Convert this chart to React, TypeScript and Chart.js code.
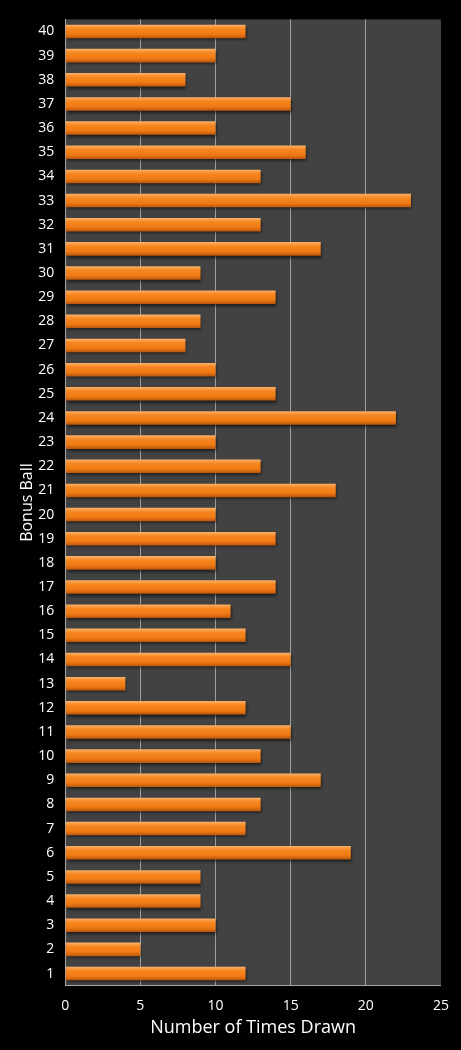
import React, { useEffect, useRef } from 'react';
import { Chart, registerables } from 'chart.js';

Chart.register(...registerables);

// bonus ball numbers, bottom (1) to top (40)
const balls: string[] = Array.from({ length: 40 }, (_, i) => String(i + 1));

const timesDrawn: number[] = [
  12, 5, 10, 9, 9, 19, 12, 13, 17, 13,
  15, 12, 4, 15, 12, 11, 14, 10, 14, 10,
  18, 13, 10, 22, 14, 10, 8, 9, 14, 9,
  17, 13, 23, 13, 16, 10, 15, 8, 10, 12,
];

const xTicks: number[] = [0, 5, 10, 15, 20, 25];

const plotBackground = {
  id: 'plotBackground',
  beforeDraw(chart: Chart) {
    const { ctx, chartArea } = chart;
    ctx.save();
    ctx.fillStyle = '#424242';
    ctx.fillRect(chartArea.left, chartArea.top, chartArea.right - chartArea.left, chartArea.bottom - chartArea.top);
    ctx.restore();
  },
};

// vertical gradient + soft shadow on each bar, like the old office 3d style
const barShade = {
  id: 'barShade',
  beforeDatasetsDraw(chart: Chart) {
    const { ctx } = chart;
    const meta = chart.getDatasetMeta(0);
    meta.data.forEach((el: any) => {
      const h = el.height;
      const top = el.y - h / 2;
      const g = ctx.createLinearGradient(0, top, 0, top + h);
      g.addColorStop(0, '#fbb26a');
      g.addColorStop(0.3, '#f7861f');
      g.addColorStop(0.7, '#f07a14');
      g.addColorStop(1, '#b9560c');
      el.options = Object.assign({}, el.options, { backgroundColor: g });
    });
    ctx.save();
    ctx.shadowColor = 'rgba(0,0,0,0.6)';
    ctx.shadowOffsetY = 2;
    ctx.shadowOffsetX = 1;
    ctx.shadowBlur = 3;
  },
  afterDatasetsDraw(chart: Chart) {
    chart.ctx.restore();
  },
};

const BonusBallChart: React.FC = () => {
  const canvasRef = useRef<HTMLCanvasElement | null>(null);

  useEffect(() => {
    document.body.style.margin = '0';
    document.body.style.background = '#000';
    if (!canvasRef.current) return;
    const ctx = canvasRef.current.getContext('2d');
    if (!ctx) return;

    const font = '"Open Sans", "DejaVu Sans", sans-serif';

    const chart = new Chart(ctx, {
      type: 'bar',
      data: {
        labels: balls,
        datasets: [
          {
            label: 'Number of Times Drawn',
            data: timesDrawn,
            backgroundColor: '#f58220',
            borderWidth: 0,
            barPercentage: 0.56,
            categoryPercentage: 1,
          },
        ],
      },
      options: {
        indexAxis: 'y',
        animation: false,
        responsive: true,
        maintainAspectRatio: false,
        layout: { padding: { top: 11, right: 20, bottom: 11, left: 18 } },
        plugins: {
          legend: { display: false },
          tooltip: { enabled: false },
        },
        scales: {
          x: {
            min: 0,
            max: 25,
            afterBuildTicks: (axis: any) => {
              axis.ticks = xTicks.map((v) => ({ value: v }));
            },
            grid: {
              color: (c: any) => (c.tick && c.tick.value > 0 && c.tick.value < 25 ? '#a0a0a0' : 'rgba(0,0,0,0)'),
              lineWidth: 1,
              drawTicks: false,
            },
            border: { display: true, color: '#a8a8a8', width: 1 },
            ticks: { color: '#fff', font: { family: font, size: 14 }, padding: 12 },
            title: {
              display: true,
              text: 'Number of Times Drawn',
              color: '#fff',
              font: { family: font, size: 18 },
              padding: { top: -9, bottom: 0 },
            },
          },
          y: {
            reverse: true,
            grid: { display: false, drawTicks: false },
            border: { display: true, color: '#a8a8a8', width: 1 },
            ticks: { color: '#fff', font: { family: font, size: 14 }, padding: 11, autoSkip: false },
            title: {
              display: true,
              text: 'Bonus Ball',
              color: '#fff',
              font: { family: font, size: 16 },
              padding: { top: 0, bottom: -10 },
            },
          },
        },
      },
      plugins: [plotBackground, barShade],
    });

    return () => {
      chart.destroy();
    };
  }, []);

  return (
    <div style={{ position: 'relative', width: 461, height: 1050, background: '#000' }}>
      <canvas ref={canvasRef} />
    </div>
  );
};

export default function App() {
  return <BonusBallChart />;
}
